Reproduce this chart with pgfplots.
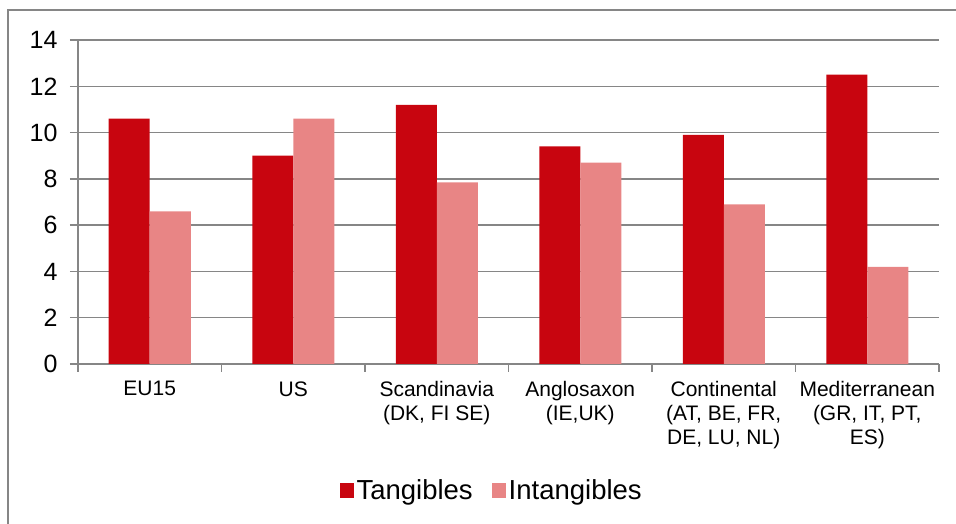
\documentclass[border=0pt]{standalone}
\usepackage{pgfplots}
\pgfplotsset{compat=1.18}
\usepackage{fontspec}
\setmainfont{Liberation Sans}
\definecolor{tang}{RGB}{200,5,15}
\definecolor{intang}{RGB}{232,133,133}
\definecolor{gridc}{RGB}{134,134,134}
\begin{document}
\begin{tikzpicture}[x=1pt,y=1pt]
\useasboundingbox (-78,-160) rectangle (878,364);
\draw[gridc, line width=1.3pt] (-70,-165) -- (-70,354) -- (885,354);
\begin{axis}[
  at={(0,0)}, anchor=south west,
  scale only axis, width=861pt, height=324pt,
  ymin=0, ymax=14, ytick={0,2,...,14},
  xmin=-0.5, xmax=5.5,
  xtick={-0.5,0.5,1.5,2.5,3.5,4.5,5.5},
  x tick label as interval,
  xticklabels={EU15, US, {Scandinavia\\(DK, FI SE)}, {Anglosaxon\\(IE,UK)}, {Continental\\(AT, BE, FR,\\DE, LU, NL)}, {Mediterranean\\(GR, IT, PT,\\ES)}},
  ybar=0pt, bar width=41pt,
  axis x line=bottom, axis y line=left,
  axis line style={gridc, line width=1.3pt, -},
  ymajorgrids, grid style={gridc, line width=1.3pt},
  tick style={gridc, line width=1.3pt},
  tick align=outside, major tick length=8pt,
  xticklabel style={font=\fontsize{21}{24}\selectfont, align=center, yshift=-6pt},
  yticklabel style={font=\fontsize{25}{28}\selectfont, xshift=-9pt},
  /pgf/number format/assume math mode=true,
  legend style={at={(0.481,-0.389)}, anchor=center, draw=none,
    font=\fontsize{27.5}{30}\selectfont, legend columns=2,
    nodes={inner xsep=3pt},
    /tikz/every even column/.append style={column sep=16pt}},
]
\addplot[fill=tang, draw=none, legend image code/.code={\fill[tang] (-3pt,-7.5pt) rectangle (11pt,7.5pt);}]
  coordinates {(0,10.6) (1,9.0) (2,11.2) (3,9.4) (4,9.9) (5,12.5)};
\addplot[fill=intang, draw=none, legend image code/.code={\fill[intang] (-3pt,-7.5pt) rectangle (11pt,7.5pt);}]
  coordinates {(0,6.6) (1,10.6) (2,7.85) (3,8.7) (4,6.9) (5,4.2)};
\legend{Tangibles, Intangibles}
\end{axis}
\end{tikzpicture}
\end{document}
